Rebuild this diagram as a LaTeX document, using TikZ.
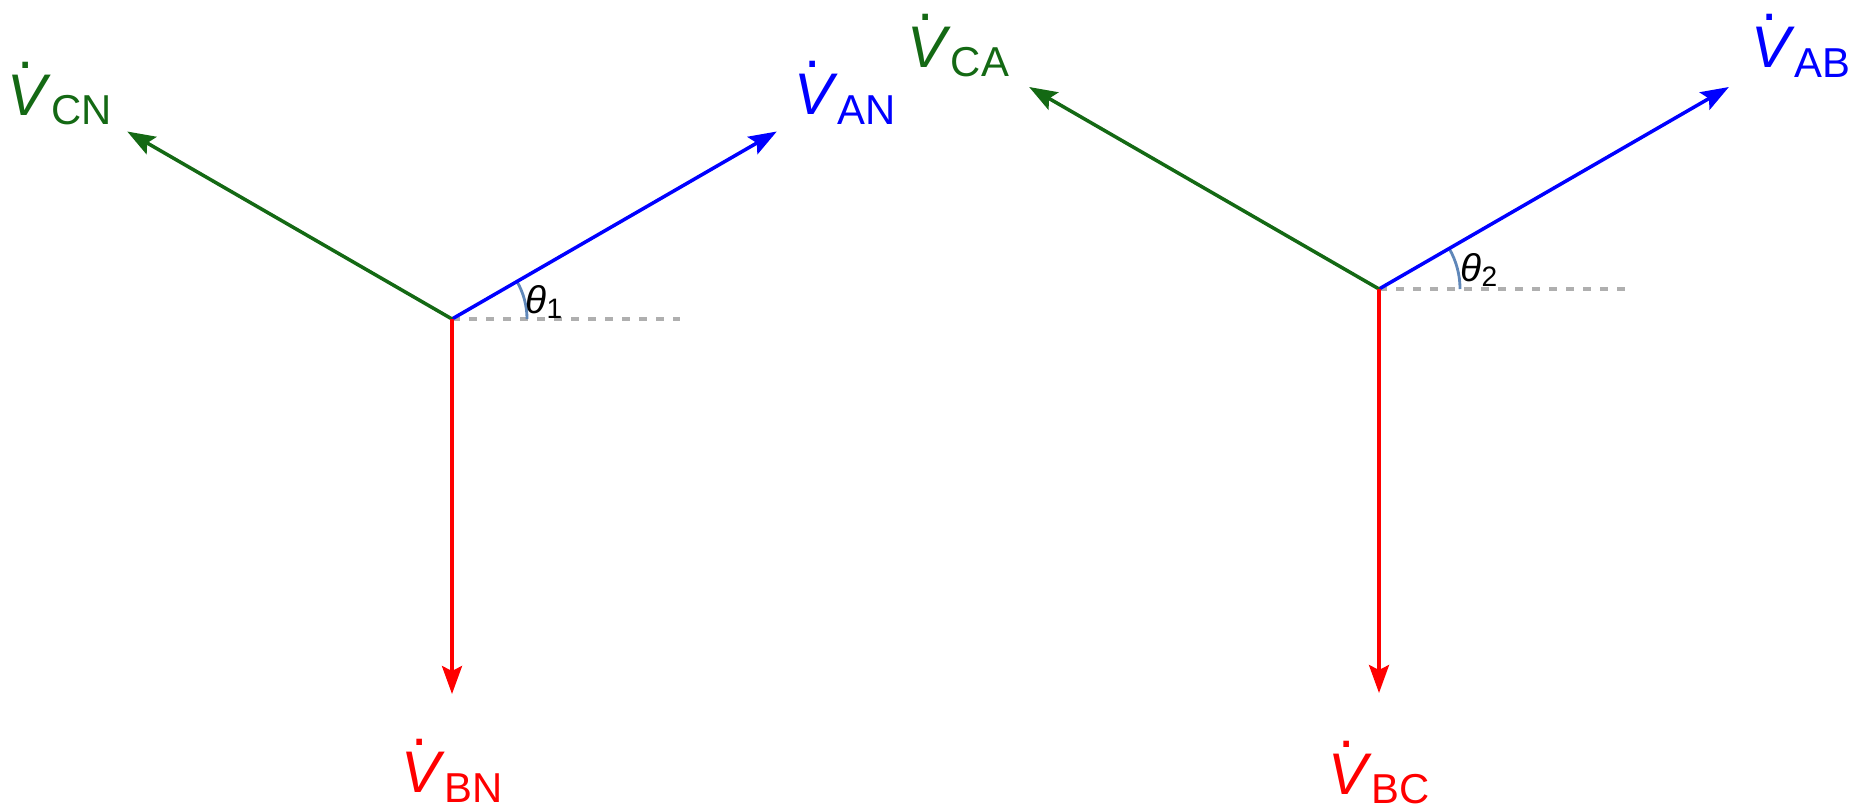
\documentclass[tikz,border=0pt]{standalone}
\usepackage{fontspec}
\setmainfont{Liberation Sans}
\usepackage{xcolor}
\usepackage{tikz}
\usetikzlibrary{arrows.meta,calc}
\definecolor{phA}{RGB}{0,0,255}
\definecolor{phB}{RGB}{255,0,0}
\definecolor{phC}{RGB}{20,105,20}
\definecolor{angcol}{RGB}{95,135,185}
\definecolor{refgray}{RGB}{175,175,175}
% dotted V with upright subscript
\newcommand{\phasor}[1]{\rlap{\smash{\hspace{0.17em}\raisebox{0.8em}{.}}}\textit{V}\raisebox{-0.17em}{\fontsize{11.9}{13}\selectfont #1}}

\begin{document}
\begin{tikzpicture}[
    vec/.style={line width=1pt,-{Stealth[length=2.8mm,width=2mm,inset=0.5mm]}},
    lab/.style={inner sep=0pt,font=\fontsize{16.7}{18}\selectfont},
    refline/.style={refgray,line width=1pt,dash pattern=on 0.8mm off 0.9mm},
    ang/.style={angcol,line width=0.8pt},
    anglab/.style={inner sep=0pt,font=\fontsize{11}{12}\selectfont}]
  \useasboundingbox (0,0) rectangle (18.66,8.10);
  % star (phase) voltages
  \coordinate (O1) at (4.52,4.91);
  \path (O1) ++(30:3.75) coordinate (AN) (O1) ++(150:3.75) coordinate (CN)
        (O1) ++(270:3.75) coordinate (BN) (O1) ++(2.28,0) coordinate (R1);
  \draw[refline] (O1) -- (R1);
  \draw[ang] ($(O1)+(0.75,0)$) arc (0:30:0.75);
  \node[anglab] (t1) at (5.44,5.08) {\textit{θ}\raisebox{-0.15em}{\footnotesize 1}};
  \draw[vec,phA] (O1) -- (AN);
  \draw[vec,phC] (O1) -- (CN);
  \draw[vec,phB] (O1) -- (BN);
  \node[lab,phA] (lAN) at (8.45,7.11) {\phasor{AN}};
  \node[lab,phC] (lCN) at (0.60,7.10) {\phasor{CN}};
  \node[lab,phB] (lBN) at (4.52,0.33) {\phasor{BN}};
  % delta (line) voltages
  \coordinate (O2) at (13.79,5.21);
  \path (O2) ++(30:4.04) coordinate (AB) (O2) ++(150:4.04) coordinate (CA)
        (O2) ++(270:4.04) coordinate (BC) (O2) ++(2.46,0) coordinate (R2);
  \draw[refline] (O2) -- (R2);
  \draw[ang] ($(O2)+(0.81,0)$) arc (0:30:0.81);
  \node[anglab] (t2) at (14.79,5.40) {\textit{θ}\raisebox{-0.15em}{\footnotesize 2}};
  \draw[vec,phA] (O2) -- (AB);
  \draw[vec,phC] (O2) -- (CA);
  \draw[vec,phB] (O2) -- (BC);
  \node[lab,phA] (lAB) at (18.01,7.58) {\phasor{AB}};
  \node[lab,phC] (lCA) at (9.58,7.58) {\phasor{CA}};
  \node[lab,phB] (lBC) at (13.79,0.31) {\phasor{BC}};
\end{tikzpicture}
\end{document}
